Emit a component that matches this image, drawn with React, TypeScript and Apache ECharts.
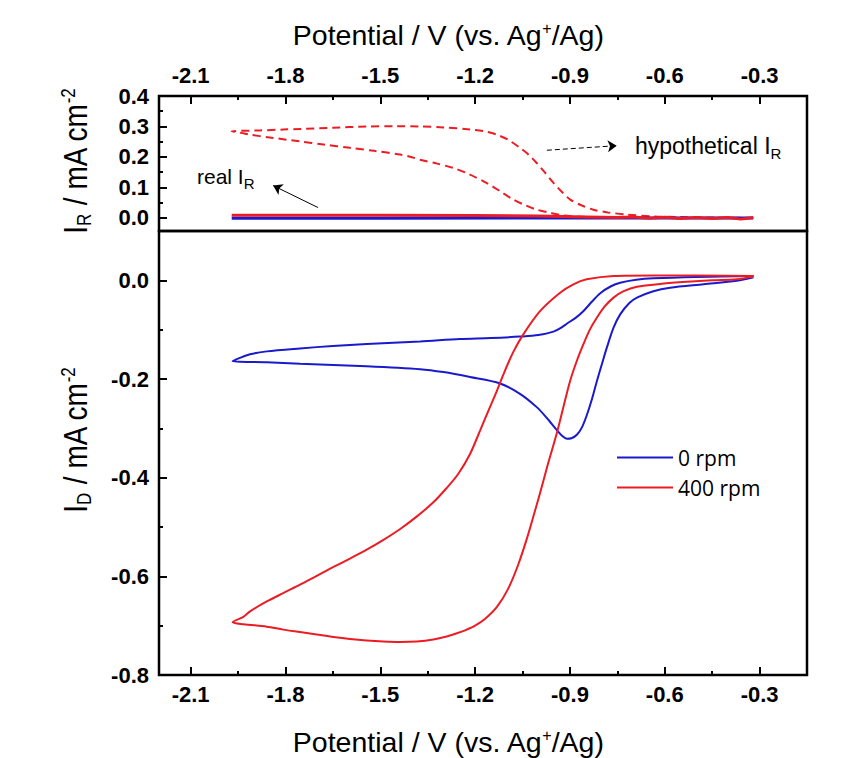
import React, { useEffect, useRef } from 'react';
import * as echarts from 'echarts';

// ---- tick values ----
const xMajor = [-2.1, -1.8, -1.5, -1.2, -0.9, -0.6, -0.3];
const xMinor = [-1.95, -1.65, -1.35, -1.05, -0.75, -0.45];
const irMajor = [0.0, 0.1, 0.2, 0.3, 0.4];
const irMinor = [0.05, 0.15, 0.25, 0.35];
const idMajor = [-0.8, -0.6, -0.4, -0.2, 0.0];
const idMinor = [-0.7, -0.5, -0.3, -0.1];

// ---- disk current, 0 rpm (potential V, current mA cm-2) ----
const disk0rpm = [
  [-0.319, 0.006], [-0.372, -0.001], [-0.477, -0.008], [-0.583, -0.015], [-0.636, -0.022],
  [-0.688, -0.035], [-0.712, -0.046], [-0.741, -0.069], [-0.762, -0.096], [-0.783, -0.136],
  [-0.799, -0.170], [-0.815, -0.205], [-0.830, -0.240], [-0.847, -0.274], [-0.862, -0.298],
  [-0.878, -0.313], [-0.895, -0.320], [-0.910, -0.321], [-0.925, -0.315], [-0.942, -0.303],
  [-0.973, -0.279], [-1.005, -0.257], [-1.058, -0.230], [-1.121, -0.209], [-1.216, -0.196],
  [-1.300, -0.186], [-1.374, -0.180], [-1.543, -0.174], [-1.754, -0.169], [-1.859, -0.166],
  [-1.967, -0.164], [-1.912, -0.150], [-1.859, -0.144], [-1.754, -0.138], [-1.650, -0.133],
  [-1.543, -0.129], [-1.374, -0.124], [-1.248, -0.119], [-1.150, -0.117], [-1.058, -0.114],
  [-1.000, -0.111], [-0.952, -0.104], [-0.930, -0.097], [-0.910, -0.088], [-0.880, -0.075],
  [-0.857, -0.062], [-0.830, -0.043], [-0.804, -0.026], [-0.770, -0.012], [-0.741, -0.005],
  [-0.690, 0.001], [-0.636, 0.004], [-0.500, 0.007], [-0.319, 0.009],
];

// ---- disk current, 400 rpm ----
const disk400rpm = [
  [-0.319, 0.008], [-0.372, 0.002], [-0.450, 0.000], [-0.530, -0.003], [-0.610, -0.007],
  [-0.688, -0.013], [-0.730, -0.022], [-0.762, -0.035], [-0.790, -0.053], [-0.815, -0.076],
  [-0.837, -0.100], [-0.857, -0.129], [-0.878, -0.163], [-0.899, -0.203], [-0.920, -0.255],
  [-0.942, -0.311], [-0.969, -0.371], [-0.988, -0.416], [-1.010, -0.466], [-1.035, -0.521],
  [-1.064, -0.577], [-1.096, -0.626], [-1.131, -0.662], [-1.168, -0.686], [-1.200, -0.700],
  [-1.230, -0.709], [-1.260, -0.716], [-1.290, -0.722], [-1.332, -0.728], [-1.385, -0.732],
  [-1.437, -0.733], [-1.490, -0.732], [-1.543, -0.730], [-1.596, -0.727], [-1.648, -0.723],
  [-1.701, -0.718], [-1.754, -0.713], [-1.807, -0.708], [-1.859, -0.702], [-1.933, -0.697],
  [-1.967, -0.693],
  [-1.933, -0.682], [-1.912, -0.671], [-1.859, -0.651], [-1.807, -0.634], [-1.754, -0.617],
  [-1.701, -0.599], [-1.648, -0.581], [-1.596, -0.564], [-1.543, -0.546], [-1.490, -0.526],
  [-1.437, -0.504], [-1.385, -0.479], [-1.332, -0.450], [-1.290, -0.421], [-1.253, -0.392],
  [-1.216, -0.352], [-1.184, -0.304], [-1.153, -0.257], [-1.131, -0.224], [-1.110, -0.190],
  [-1.079, -0.145], [-1.047, -0.109], [-0.994, -0.062], [-0.931, -0.025], [-0.889, -0.008],
  [-0.847, 0.002], [-0.762, 0.009], [-0.636, 0.010], [-0.319, 0.009],
];

// ---- ring current: hypothetical (dashed) ----
const ringHypothetical = [
  [-0.32, 0.000], [-0.45, 0.001], [-0.55, 0.003], [-0.636, 0.005], [-0.72, 0.011], [-0.78, 0.018],
  [-0.826, 0.027], [-0.865, 0.042], [-0.899, 0.060], [-0.925, 0.085], [-0.952, 0.115], [-0.980, 0.150],
  [-1.005, 0.180], [-1.030, 0.207], [-1.058, 0.230], [-1.095, 0.256], [-1.131, 0.273], [-1.170, 0.284],
  [-1.216, 0.290], [-1.300, 0.297], [-1.374, 0.300], [-1.450, 0.301], [-1.543, 0.300], [-1.650, 0.296],
  [-1.750, 0.292], [-1.807, 0.290], [-1.880, 0.287], [-1.970, 0.284],
  [-1.940, 0.279], [-1.912, 0.273], [-1.850, 0.264], [-1.754, 0.251], [-1.680, 0.241], [-1.596, 0.230],
  [-1.520, 0.220], [-1.437, 0.208], [-1.400, 0.199], [-1.374, 0.191], [-1.320, 0.178], [-1.269, 0.164],
  [-1.220, 0.144], [-1.164, 0.115], [-1.120, 0.087], [-1.079, 0.060], [-1.040, 0.041], [-1.005, 0.027],
  [-0.960, 0.016], [-0.920, 0.008], [-0.850, 0.003], [-0.750, 0.001], [-0.600, 0.000],
];

// ---- ring current: real (solid) ----
const ringReal0rpm = [
  [-1.97, -0.001], [-1.5, -0.001], [-1.0, 0.0], [-0.6, 0.0], [-0.32, 0.0],
];
const ringReal400rpm = [
  [-1.97, 0.009], [-1.5, 0.009], [-1.2, 0.008], [-1.0, 0.006], [-0.85, 0.003], [-0.75, 0.001],
  [-0.70, 0.003], [-0.65, -0.001], [-0.60, 0.002], [-0.55, -0.002], [-0.50, 0.001], [-0.45, -0.002],
  [-0.40, 0.001], [-0.36, -0.004], [-0.33, 0.000], [-0.32, 0.001],
];

const BLUE = '#1a1acc';
const RED = '#ec1c24';
const FONT = '"Liberation Sans", Arial, sans-serif';

const fmt = (v: number) => v.toFixed(1);

function xAxisDef(gridIndex: number, position: 'top' | 'bottom', major: boolean) {
  return {
    type: 'value',
    gridIndex,
    position,
    min: -2.2,
    max: -0.15,
    axisLine: { show: false, onZero: false },
    splitLine: { show: false },
    axisTick: {
      show: true,
      inside: true,
      length: major ? 8 : 4,
      customValues: major ? xMajor : xMinor,
      lineStyle: { color: '#000', width: 2 },
    },
    axisLabel: major
      ? {
          show: true,
          customValues: xMajor,
          formatter: fmt,
          margin: position === 'top' ? 10 : 8,
          fontFamily: FONT,
          fontWeight: 'bold',
          fontSize: 22,
          color: '#000',
        }
      : { show: false },
  };
}

function yAxisDef(gridIndex: number, min: number, max: number, majorVals: number[], minorVals: number[], major: boolean) {
  return {
    type: 'value',
    gridIndex,
    position: 'left',
    min,
    max,
    axisLine: { show: false, onZero: false },
    splitLine: { show: false },
    axisTick: {
      show: true,
      inside: true,
      length: major ? 8 : 4,
      customValues: major ? majorVals : minorVals,
      lineStyle: { color: '#000', width: 2 },
    },
    axisLabel: major
      ? {
          show: true,
          customValues: majorVals,
          formatter: fmt,
          margin: 10,
          fontFamily: FONT,
          fontWeight: 'bold',
          fontSize: 22,
          color: '#000',
        }
      : { show: false },
  };
}

const titleRich = {
  a: { fontSize: 28, fontFamily: FONT, lineHeight: 30, verticalAlign: 'middle', fill: '#000' },
  p: { fontSize: 17, fontFamily: FONT, lineHeight: 16, verticalAlign: 'top', fill: '#000' },
  b: { fontSize: 17, fontFamily: FONT, lineHeight: 20, verticalAlign: 'bottom', fill: '#000' },
};
const xTitleRich = {
  a: { fontSize: 28.5, fontFamily: FONT, lineHeight: 30, verticalAlign: 'middle', fill: '#000' },
  p: { fontSize: 16, fontFamily: FONT, lineHeight: 22, verticalAlign: 'top', fill: '#000' },
};
const annRich = (size: number) => ({
  a: { fontSize: size, fontFamily: FONT, lineHeight: 30, verticalAlign: 'middle', fill: '#000' },
  b: { fontSize: 15, fontFamily: FONT, lineHeight: 12, verticalAlign: 'bottom', fill: '#000' },
});

const option = {
  animation: false,
  backgroundColor: '#fff',
  grid: [
    { left: 159, right: 45, top: 96, height: 135, show: true, borderColor: '#000', borderWidth: 2.5, backgroundColor: 'transparent' },
    { left: 159, right: 45, top: 231, height: 444, show: true, borderColor: '#000', borderWidth: 2.5, backgroundColor: 'transparent' },
  ],
  xAxis: [
    xAxisDef(0, 'top', true),
    xAxisDef(0, 'top', false),
    xAxisDef(1, 'bottom', true),
    xAxisDef(1, 'bottom', false),
  ],
  yAxis: [
    yAxisDef(0, -0.043, 0.4, irMajor, irMinor, true),
    yAxisDef(0, -0.043, 0.4, irMajor, irMinor, false),
    yAxisDef(1, -0.8, 0.1, idMajor, idMinor, true),
    yAxisDef(1, -0.8, 0.1, idMajor, idMinor, false),
  ],
  legend: {
    data: ['0 rpm', '400 rpm'],
    orient: 'vertical',
    left: 617,
    top: 447,
    padding: 0,
    icon: 'rect',
    itemWidth: 56,
    itemHeight: 2,
    itemGap: 9,
    textStyle: { fontFamily: '"Open Sans", sans-serif', fontSize: 21, color: '#000' },
  },
  series: [
    {
      name: 'hypothetical',
      type: 'line',
      xAxisIndex: 0,
      yAxisIndex: 0,
      data: ringHypothetical,
      symbol: 'none',
      smooth: 0.3,
      lineStyle: { color: RED, width: 2, type: [8, 5] },
      itemStyle: { color: RED },
      markLine: {
        silent: true,
        symbol: ['none', 'arrow'],
        symbolSize: 9,
        label: { show: false },
        lineStyle: { color: '#000', width: 1, type: [5, 3] },
        data: [[{ coord: [-0.973, 0.222] }, { coord: [-0.752, 0.237] }]],
      },
    },
    {
      name: 'real 0',
      type: 'line',
      xAxisIndex: 0,
      yAxisIndex: 0,
      data: ringReal0rpm,
      symbol: 'none',
      lineStyle: { color: BLUE, width: 3 },
      itemStyle: { color: BLUE },
    },
    {
      name: 'real 400',
      type: 'line',
      xAxisIndex: 0,
      yAxisIndex: 0,
      data: ringReal400rpm,
      symbol: 'none',
      lineStyle: { color: RED, width: 3 },
      itemStyle: { color: RED },
      markLine: {
        silent: true,
        symbol: ['none', 'arrow'],
        symbolSize: 9,
        label: { show: false },
        lineStyle: { color: '#000', width: 1, type: 'solid' },
        data: [[{ coord: [-1.697, 0.034] }, { coord: [-1.839, 0.106] }]],
      },
    },
    {
      name: '0 rpm',
      type: 'line',
      xAxisIndex: 2,
      yAxisIndex: 2,
      data: disk0rpm,
      symbol: 'none',
      smooth: 0.3,
      lineStyle: { color: BLUE, width: 2 },
      itemStyle: { color: BLUE },
    },
    {
      name: '400 rpm',
      type: 'line',
      xAxisIndex: 2,
      yAxisIndex: 2,
      data: disk400rpm,
      symbol: 'none',
      smooth: 0.3,
      lineStyle: { color: RED, width: 2 },
      itemStyle: { color: RED },
    },
  ],
  graphic: [
    {
      type: 'text',
      x: 448,
      y: 35,
      style: { text: '{a|Potential / V (vs. Ag}{p|+}{a|/Ag)}', rich: xTitleRich, align: 'center', verticalAlign: 'middle', fill: '#000' },
    },
    {
      type: 'text',
      x: 448,
      y: 742,
      style: { text: '{a|Potential / V (vs. Ag}{p|+}{a|/Ag)}', rich: xTitleRich, align: 'center', verticalAlign: 'middle', fill: '#000' },
    },
    {
      type: 'text',
      x: 76,
      y: 161,
      rotation: Math.PI / 2,
      scaleY: 1.2,
      style: { text: '{a|I}{b|R}{a| / mA cm}{p|-2}', rich: titleRich, align: 'center', verticalAlign: 'middle', fill: '#000' },
    },
    {
      type: 'text',
      x: 76,
      y: 440,
      rotation: Math.PI / 2,
      scaleY: 1.2,
      style: { text: '{a|I}{b|D}{a| / mA cm}{p|-2}', rich: titleRich, align: 'center', verticalAlign: 'middle', fill: '#000' },
    },
    {
      type: 'text',
      x: 197,
      y: 176,
      style: { text: '{a|real I}{b|R}', rich: annRich(21), align: 'left', verticalAlign: 'middle', fill: '#000' },
    },
    {
      type: 'text',
      x: 635,
      y: 146,
      style: { text: '{a|hypothetical I}{b|R}', rich: annRich(23), align: 'left', verticalAlign: 'middle', fill: '#000' },
    },
  ],
};

export default function App() {
  const ref = useRef<HTMLDivElement>(null);
  useEffect(() => {
    document.body.style.margin = '0';
    const chart = echarts.init(ref.current as HTMLDivElement, undefined, { renderer: 'svg' });
    chart.setOption(option as any);
    return () => chart.dispose();
  }, []);
  return <div ref={ref} style={{ width: 852, height: 758, background: '#fff' }} />;
}
